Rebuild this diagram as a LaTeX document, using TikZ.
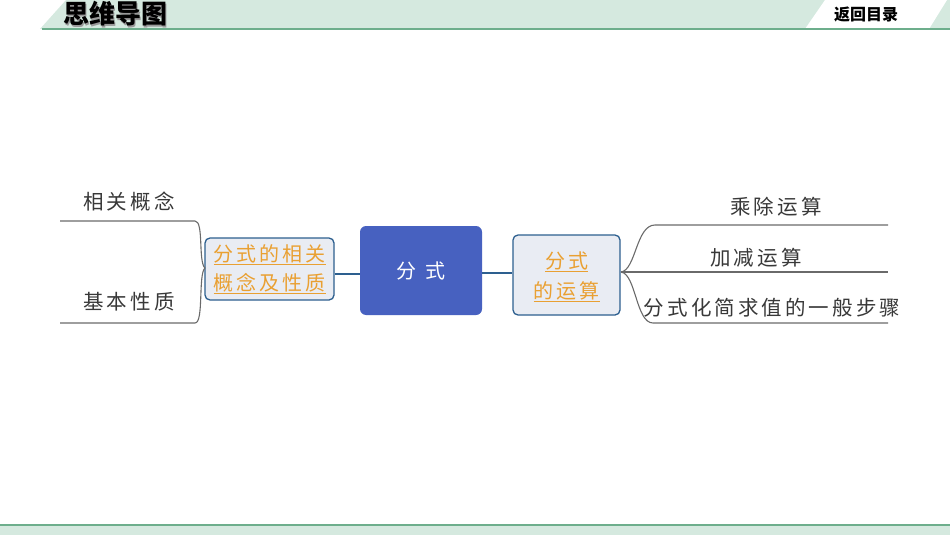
\documentclass[tikz,border=0pt]{standalone}
\usepackage{fontspec}
\newfontfamily\cjk[LetterSpace=15]{Noto Sans CJK SC}
\newfontfamily\cjktight{Noto Sans CJK SC}
\definecolor{hdrfill}{HTML}{D5E9DF}
\definecolor{hdrline}{HTML}{6DAE8C}
\definecolor{centerblue}{HTML}{4761C0}
\definecolor{boxborder}{HTML}{2D5F8F}
\definecolor{boxfill}{HTML}{E9ECF3}
\definecolor{orangetxt}{HTML}{E9A032}
\definecolor{branchgray}{HTML}{6A6A6A}
\definecolor{labelgray}{HTML}{383838}
\tikzset{
  subbox/.style={draw=boxborder, line width=1.3pt, fill=boxfill, rounded corners=5pt, align=center, font=\cjk\fontsize{20}{27}\selectfont, text=orangetxt, inner sep=0pt},
  branch/.style={draw=branchgray, line width=1.1pt},
  link/.style={draw=boxborder, line width=1.6pt},
  leaflabel/.style={font=\cjk\fontsize{20.5}{23}\selectfont, text=labelgray, inner sep=0pt, anchor=center}
}
\newcommand{\ul}[1]{\underline{#1}}
\begin{document}
\begin{tikzpicture}[x=1pt,y=-1pt]
\useasboundingbox (0,0) rectangle (950,535);
% header
\fill[hdrfill] (40,29) -- (66,0) -- (950,0) -- (950,29) -- cycle;
\fill[white] (805,29) -- (825,0) -- (947,0) -- (929,29) -- cycle;
\draw[hdrline, line width=2pt] (42,29) -- (950,29);
\node[font=\cjktight\bfseries\fontsize{26}{26}\selectfont, text=black!40, inner sep=0pt] at (116.5,15.5) {思维导图};
\node[font=\cjktight\bfseries\fontsize{26}{26}\selectfont, text=black, inner sep=0pt] (title) at (115,14) {思维导图};
\node[font=\cjktight\bfseries\fontsize{16}{16}\selectfont, text=black, inner sep=0pt] (back) at (866,15) {返回目录};
% footer
\fill[hdrfill] (0,525) rectangle (950,535);
\draw[hdrline, line width=2pt] (0,524.5) -- (950,524.5);
% center node
\node[fill=centerblue, rounded corners=6pt, minimum width=122pt, minimum height=89pt, inner sep=0pt,
      font=\cjktight\fontsize{20}{20}\selectfont, text=white] (C) at (421,270.5) {分\hspace{9pt}式};
% left sub node
\node[subbox, minimum width=129pt, minimum height=62pt] (L) at (269.5,269) {\ul{分式的相关}\\[2pt]\ul{概念及性质}};
% right sub node
\node[subbox, minimum width=107pt, minimum height=80pt, text depth=0pt] (R) at (566.5,275) {\ul{分式}\\[3pt]\ul{的运算}};
% links
\draw[link] (L.east |- 0,274) -- (C.west |- 0,274);
\draw[link] (C.east |- 0,273) -- (R.west |- 0,273);
% left leaves
\coordinate (l1a) at (195,221);
\coordinate (l1b) at (60,221);
\coordinate (l2a) at (195,323);
\coordinate (l2b) at (60,323);
\coordinate (lroot) at (205,268);
\draw[branch] (lroot) .. controls (198,262) and (204,221) .. (l1a) -- (l1b);
\draw[branch] (lroot) .. controls (198,274) and (204,323) .. (l2a) -- (l2b);
\node[leaflabel] (t1) at (129,202) {相关概念};
\node[leaflabel] (t2) at (129,302) {基本性质};
% right leaves
\coordinate (rroot) at (621,272);
\coordinate (r1a) at (655,225);
\coordinate (r1b) at (888,225);
\coordinate (r2b) at (888,272);
\coordinate (r3a) at (653,323);
\coordinate (r3b) at (888,323);
\draw[branch] (rroot) .. controls (636,270) and (636,225) .. (r1a) -- (r1b);
\draw[branch] (rroot) -- (r2b);
\draw[branch] (rroot) .. controls (636,274) and (636,323) .. (r3a) -- (r3b);
\node[leaflabel] (u1) at (776,207) {乘除运算};
\node[leaflabel] (u2) at (756,258) {加减运算};
\node[leaflabel] (u3) at (772,308) {分式化简求值的一般步骤};
\end{tikzpicture}
\end{document}
